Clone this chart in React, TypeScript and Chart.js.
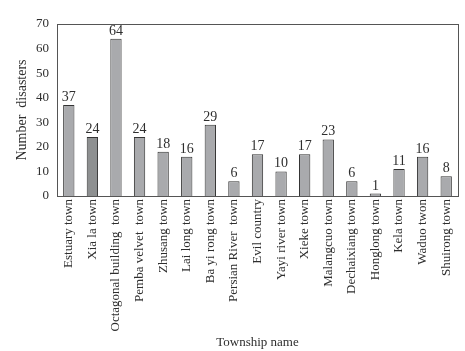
import React, { useEffect, useRef } from "react";
import { Chart, registerables } from "chart.js";

Chart.register(...registerables);

const categories = [
  "Estuary town",
  "Xia la town",
  "Octagonal building  town",
  "Pemba velvet  town",
  "Zhusang town",
  "Lai long town",
  "Ba yi rong town",
  "Persian River  town",
  "Evil country",
  "Yayi river town",
  "Xieke town",
  "Malangcuo town",
  "Dechaixiang town",
  "Honglong town",
  "Kela town",
  "Waduo twon",
  "Shuirong town",
];
const disasters = [37, 24, 64, 24, 18, 16, 29, 6, 17, 10, 17, 23, 6, 1, 11, 16, 8];
const barColors = categories.map((_, i) => (i === 1 ? "#8e9091" : "#a9aaad"));

const FONT = "'Liberation Serif', 'Times New Roman', serif";
const TEXT = "#2e2e2e";

const boxAndLabels = {
  id: "boxAndLabels",
  afterDatasetsDraw(chart: any) {
    const { ctx, chartArea } = chart;
    ctx.save();
    ctx.strokeStyle = "#555555";
    ctx.lineWidth = 1;
    ctx.strokeRect(
      Math.round(chartArea.left) + 0.5,
      Math.round(chartArea.top) + 0.5,
      Math.round(chartArea.right - chartArea.left),
      Math.round(chartArea.bottom - chartArea.top)
    );
    const meta = chart.getDatasetMeta(0);
    ctx.fillStyle = TEXT;
    ctx.font = `14px ${FONT}`;
    ctx.textAlign = "center";
    ctx.textBaseline = "alphabetic";
    meta.data.forEach((bar: any, i: number) => {
      ctx.fillText(String(disasters[i]), bar.x, bar.y - 4);
    });
    ctx.restore();
  },
};

export default function App() {
  const ref = useRef<HTMLCanvasElement>(null);
  useEffect(() => {
    if (!ref.current) return;
    const chart = new Chart(ref.current, {
      type: "bar",
      data: {
        labels: categories,
        datasets: [
          {
            data: disasters,
            backgroundColor: barColors,
            borderColor: "#333333",
            borderWidth: 1,
            categoryPercentage: 1,
            barPercentage: 0.48,
          },
        ],
      },
      options: {
        animation: false,
        responsive: false,
        maintainAspectRatio: false,
        layout: { padding: { left: 0, top: 24, right: 7, bottom: 0 } },
        plugins: { legend: { display: false }, tooltip: { enabled: false } },
        scales: {
          x: {
            grid: { display: false, drawTicks: false },
            border: { display: false },
            ticks: {
              minRotation: 90,
              maxRotation: 90,
              autoSkip: false,
              padding: 3,
              color: TEXT,
              font: { family: FONT, size: 13 },
            },
            title: {
              display: true,
              text: "Township name",
              color: TEXT,
              font: { family: FONT, size: 13 },
              padding: { top: 0, bottom: 1 },
            },
            afterFit: (s: any) => {
              s.height = 155;
            },
          },
          y: {
            min: 0,
            max: 70,
            grid: { display: false, drawTicks: false },
            border: { display: false },
            ticks: {
              stepSize: 10,
              padding: 8,
              color: TEXT,
              font: { family: FONT, size: 13 },
            },
            title: {
              display: true,
              text: "Number  disasters",
              color: TEXT,
              font: { family: FONT, size: 14 },
              padding: { top: 14, bottom: 0 },
            },
            afterFit: (s: any) => {
              s.width = 57;
            },
          },
        },
      },
      plugins: [boxAndLabels],
    });
    return () => chart.destroy();
  }, []);
  return (
    <div style={{ position: "fixed", left: 0, top: 0, width: 465, height: 351, background: "#fff" }}>
      <canvas ref={ref} width={465} height={351} style={{ width: 465, height: 351 }} />
    </div>
  );
}
